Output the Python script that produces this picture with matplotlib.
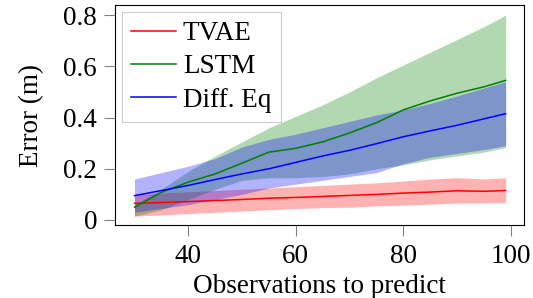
import matplotlib
matplotlib.use("Agg")
import matplotlib.pyplot as plt

# observations to predict
steps = [30, 35, 40, 45, 50, 55, 60, 65, 70, 75, 80, 85, 90, 95, 99]

tvae_mean = [0.065, 0.068, 0.072, 0.076, 0.080, 0.085, 0.088, 0.092, 0.096, 0.100, 0.105, 0.109, 0.114, 0.112, 0.115]
tvae_hi = [0.100, 0.105, 0.110, 0.115, 0.120, 0.125, 0.130, 0.135, 0.140, 0.145, 0.152, 0.160, 0.165, 0.160, 0.165]
tvae_lo = [0.015, 0.020, 0.025, 0.030, 0.035, 0.040, 0.045, 0.048, 0.050, 0.055, 0.058, 0.062, 0.066, 0.066, 0.068]

lstm_mean = [0.050, 0.108, 0.148, 0.180, 0.222, 0.265, 0.280, 0.305, 0.340, 0.380, 0.430, 0.465, 0.495, 0.520, 0.545]
lstm_hi = [0.060, 0.120, 0.190, 0.250, 0.305, 0.360, 0.405, 0.450, 0.500, 0.555, 0.605, 0.655, 0.705, 0.755, 0.800]
lstm_lo = [0.015, 0.040, 0.080, 0.120, 0.155, 0.165, 0.165, 0.170, 0.180, 0.200, 0.215, 0.235, 0.250, 0.265, 0.283]

deq_mean = [0.095, 0.115, 0.135, 0.158, 0.180, 0.200, 0.225, 0.250, 0.272, 0.298, 0.325, 0.348, 0.370, 0.395, 0.415]
deq_hi = [0.160, 0.185, 0.210, 0.240, 0.285, 0.315, 0.335, 0.360, 0.385, 0.410, 0.430, 0.455, 0.485, 0.515, 0.540]
deq_lo = [0.030, 0.045, 0.060, 0.080, 0.100, 0.125, 0.140, 0.155, 0.170, 0.185, 0.220, 0.245, 0.260, 0.275, 0.290]

plt.rcParams['font.family'] = ['Liberation Serif', 'DejaVu Serif']
plt.rcParams['font.size'] = 19.5

fig = plt.figure(figsize=(5.33, 2.98), dpi=100)
ax = fig.add_axes([0.216, 0.245, 0.767, 0.738])

# bands first (red, green, blue so blue sits on top)
ax.fill_between(steps, tvae_lo, tvae_hi, color='red', alpha=0.3, linewidth=0)
ax.fill_between(steps, lstm_lo, lstm_hi, color='green', alpha=0.3, linewidth=0)
ax.fill_between(steps, deq_lo, deq_hi, color='blue', alpha=0.3, linewidth=0)

ax.plot(steps, tvae_mean, color='red', lw=1.1, label='TVAE')
ax.plot(steps, lstm_mean, color='green', lw=1.1, label='LSTM')
ax.plot(steps, deq_mean, color='blue', lw=1.1, label='Diff. Eq')

ax.set_xlim(26.4, 102.4)
ax.set_ylim(-0.0195, 0.839)
ax.set_xticks([40, 60, 80, 100])
ax.set_yticks([0, 0.2, 0.4, 0.6, 0.8])
ax.set_yticklabels(['0', '0.2', '0.4', '0.6', '0.8'])
ax.tick_params(direction='out', length=8, width=0.8, color='gray')
ax.tick_params(axis='x', pad=6)
ax.tick_params(axis='y', pad=5)

ax.set_xlabel('Observations to predict', labelpad=3)
ax.set_ylabel('Error (m)', labelpad=14)

leg = ax.legend(loc='upper left', fancybox=False, framealpha=1, edgecolor='#cccccc',
                handlelength=1.65, handletextpad=0.25, borderpad=0.35, labelspacing=0.3,
                borderaxespad=0.25)
leg.get_frame().set_linewidth(0.8)

fig.savefig('out.png', dpi=100)
